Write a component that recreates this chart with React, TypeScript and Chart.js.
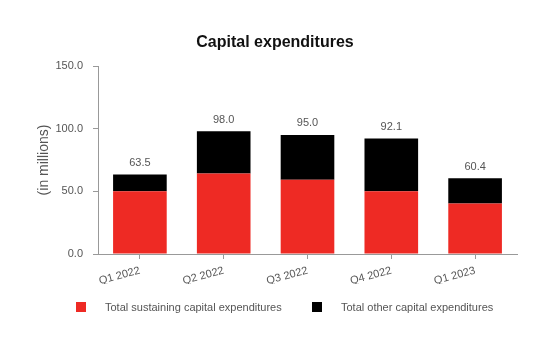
import React, { useEffect, useRef } from "react";
import { Chart, registerables } from "chart.js";

Chart.register(...registerables);

const categories = ["Q1 2022", "Q2 2022", "Q3 2022", "Q4 2022", "Q1 2023"];
const sustaining = [50.0, 64.2, 59.3, 50.0, 40.3];
const other = [13.5, 33.8, 35.7, 42.1, 20.1];
const totals = [63.5, 98.0, 95.0, 92.1, 60.4];
const yTicks = [0, 50, 100, 150];

const RED = "#EE2A24";
const BLACK = "#000000";
const GREY_TEXT = "#555555";
const AXIS = "#999999";
const FONT = "'Liberation Sans', Arial, sans-serif";

const totalsPlugin = {
  id: "totals",
  afterDatasetsDraw(chart: any) {
    const ctx = chart.ctx;
    const meta = chart.getDatasetMeta(1);
    ctx.save();
    ctx.font = `11px ${FONT}`;
    ctx.fillStyle = GREY_TEXT;
    ctx.textAlign = "center";
    ctx.textBaseline = "bottom";
    meta.data.forEach((el: any, i: number) => {
      ctx.fillText(totals[i].toFixed(1), el.x, el.y - 6);
    });
    ctx.restore();
  },
};

export default function App() {
  const ref = useRef<HTMLCanvasElement>(null);
  useEffect(() => {
    if (!ref.current) return;
    const chart = new Chart(ref.current, {
      type: "bar",
      data: {
        labels: categories,
        datasets: [
          { label: "Total sustaining capital expenditures", data: sustaining, backgroundColor: RED, barPercentage: 0.64, categoryPercentage: 1 },
          { label: "Total other capital expenditures", data: other, backgroundColor: BLACK, barPercentage: 0.64, categoryPercentage: 1 },
        ],
      },
      options: {
        responsive: false,
        animation: false,
        layout: { padding: { top: 66, right: 33, bottom: 66, left: 0 } },
        plugins: {
          legend: { display: false },
          tooltip: { enabled: false },
          title: { display: false },
        },
        scales: {
          x: {
            stacked: true,
            afterFit: (s: any) => { s.height = 30; },
            grid: { display: true, drawOnChartArea: false, drawTicks: true, tickLength: 5, color: AXIS, offset: false },
            border: { display: true, color: AXIS },
            ticks: {
              color: GREY_TEXT,
              font: { family: FONT, size: 11 },
              minRotation: 15,
              maxRotation: 15,
              padding: 5,
            },
          },
          y: {
            stacked: true,
            min: 0,
            max: 150,
            afterFit: (s: any) => { s.width = 98; },
            afterBuildTicks: (s: any) => { s.ticks = yTicks.map((v) => ({ value: v })); },
            grid: { display: true, drawOnChartArea: false, drawTicks: true, tickLength: 5, color: AXIS },
            border: { display: true, color: AXIS },
            ticks: {
              color: GREY_TEXT,
              font: { family: FONT, size: 11 },
              padding: 10,
              callback: (v: any) => Number(v).toFixed(1),
            },
            title: {
              display: true,
              text: "(in millions)",
              color: GREY_TEXT,
              font: { family: FONT, size: 14 },
              padding: { top: 36, bottom: 0 },
            },
          },
        },
      },
      plugins: [totalsPlugin],
    });
    return () => chart.destroy();
  }, []);

  const legendItem = (color: string, text: string, left: number) => (
    <div style={{ position: "absolute", left, top: 302, height: 10, display: "flex", alignItems: "center" }}>
      <span style={{ display: "inline-block", width: 10, height: 10, background: color }} />
      <span style={{ marginLeft: 19, font: `11px ${FONT}`, color: GREY_TEXT, whiteSpace: "nowrap" }}>{text}</span>
    </div>
  );

  return (
    <div style={{ position: "absolute", left: 0, top: 0, width: 550, height: 350, background: "#fff" }}>
      <canvas ref={ref} width={550} height={350} style={{ position: "absolute", left: 0, top: 0 }} />
      <div
        style={{
          position: "absolute",
          left: 0,
          top: 32,
          width: 550,
          textAlign: "center",
          font: `bold 16px ${FONT}`,
          lineHeight: "20px",
          color: "#111111",
        }}
      >
        Capital expenditures
      </div>
      {legendItem(RED, "Total sustaining capital expenditures", 76)}
      {legendItem(BLACK, "Total other capital expenditures", 312)}
    </div>
  );
}
